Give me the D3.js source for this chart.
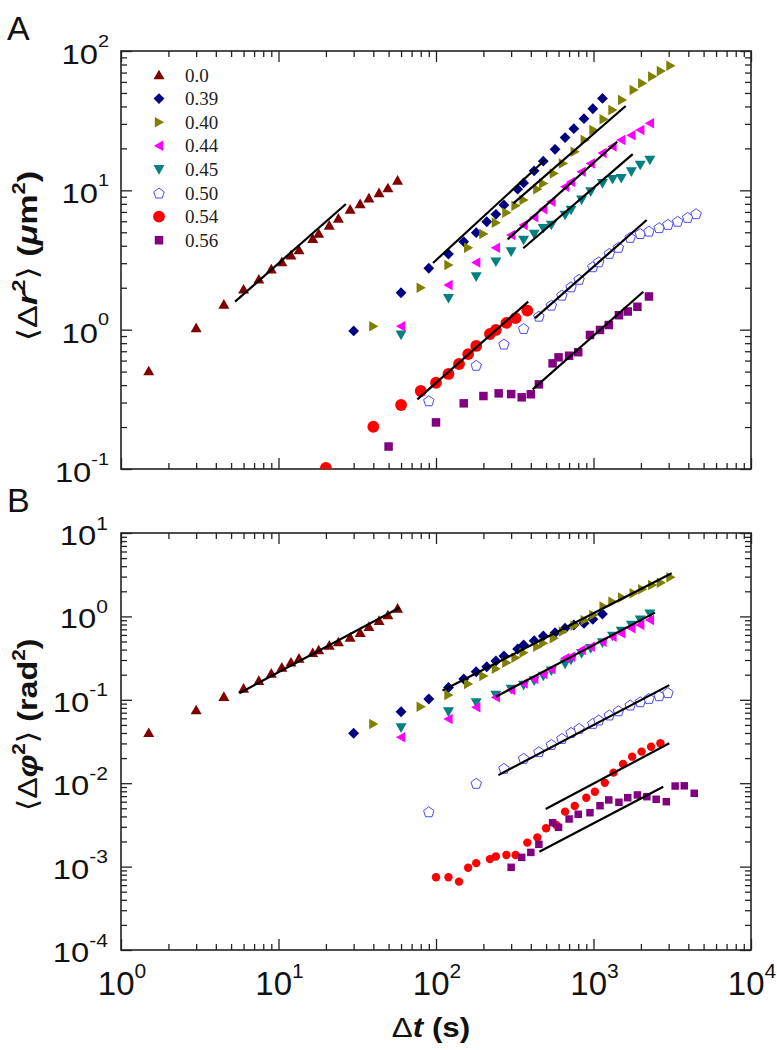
<!DOCTYPE html>
<html><head><meta charset="utf-8">
<script src="https://cdn.jsdelivr.net/npm/d3@7"></script>
<style>body{margin:0;background:#fff} svg{display:block}</style>
</head><body>
<svg id="chart" width="777" height="1050"></svg>
<script>
// ---------------- DATA ----------------
const LABELS = ["0.0","0.39","0.40","0.44","0.45","0.50","0.54","0.56"];

// lag times (s)
const T_00  = [1.5,3,4.5,6,7.5,9,10.5,12,13.5,16.5,18,21,24,28.5,33,37.5,43.5,49.5,57];
const T_039 = [30,60,90,120,150,180,210,240,270,330,360,420,480,570,660,750,870,990,1140];
const T_040 = [40,80,120,160,200,240,280,320,360,440,480,560,640,760,880,1000,1160,1320,1520,1800,2040,2360,2680,3080];
const T_044 = [60,120,180,240,300,360,420,480,540,660,720,840,960,1140,1320,1500,1740,1980,2280];
const T_045 = [60,120,180,240,300,360,420,480,540,660,720,840,960,1140,1320,1500,1740,1980,2280];
const T_050A = [90,180,270,360,450,540,630,720,810,990,1080,1260,1440,1710,1980,2250,2610,2970,3420,3960,4480];
const T_050B = [90,180,270,360,450,540,630,720,810,990,1080,1260,1440,1710,1980,2250,2610,2970];
const T_054A = [20,40,60,80,100,120,140,160,180,220,240,280,320,380];
const T_054B = [100,120,140,160,180,220,240,280,320,380,440,500,580,660,760,900,1020,1180,1340,1540,1760,2020,2320,2660];
const T_056A = [50,100,150,200,250,300,350,400,450,550,600,700,800,950,1100,1250,1450,1650,1900,2250];
const T_056B = [300,350,400,450,550,600,700,800,950,1100,1250,1450,1650,1900,2180,2500,2900,3300,3770,4360];

// Panel A: <Δr²> (µm²)
const MSD_00  = [0.505,1.03,1.52,1.95,2.30,2.72,3.07,3.43,3.73,4.5,4.9,5.6,6.3,7.3,8.0,8.8,9.6,10.4,11.8];
const MSD_039 = [0.98,1.84,2.76,3.49,4.28,4.97,5.95,6.73,7.85,10.2,11.3,13.8,16.2,19.7,23.9,27.7,32.7,38.5,45.7];
const MSD_040 = [1.06,2.0,2.91,3.87,4.86,5.86,6.91,7.76,8.53,10.2,11.2,13.2,15.6,18.9,23.0,27.1,32.4,37.7,44.5,52.5,58.6,65.5,71.8,78.5];
const MSD_044 = [1.06,2.09,3.03,3.87,4.78,5.64,6.40,7.31,8.28,10.6,11.5,13.6,15.6,18.5,20.6,23.0,24.9,27.1,30.3];
const MSD_045 = [0.916,1.68,2.40,3.07,3.63,4.40,4.86,5.34,5.64,6.65,7.22,8.53,9.78,11.2,12.0,12.2,13.6,15.2,16.5];
const MSD_050 = [0.309,0.555,0.789,1.02,1.25,1.50,1.77,2.03,2.30,2.83,3.07,3.53,3.90,4.6,4.9,5.1,5.4,5.7,6.0,6.4,6.8];
const MSD_054 = [0.102,0.201,0.288,0.363,0.416,0.481,0.567,0.668,0.764,0.931,0.995,1.12,1.21,1.37];
const MSD_056 = [0.145,0.216,0.296,0.334,0.349,0.345,0.327,0.344,0.405,0.573,0.633,0.650,0.689,0.916,0.995,1.08,1.27,1.35,1.46,1.73];

// Panel B: <Δφ²> (rad²)
const MSAD_00  = [0.0403,0.0755,0.109,0.137,0.170,0.207,0.245,0.282,0.314,0.367,0.396,0.450,0.493,0.561,0.638,0.753,0.889,1.04,1.25];
const MSAD_039 = [0.0397,0.072,0.102,0.140,0.178,0.217,0.249,0.292,0.335,0.406,0.454,0.512,0.582,0.638,0.72,0.789,0.826,0.922,1.07];
const MSAD_040 = [0.0513,0.0826,0.114,0.155,0.193,0.236,0.279,0.320,0.367,0.434,0.475,0.546,0.66,0.78,0.90,1.04,1.31,1.50,1.68,1.89,2.11,2.38,2.54,2.94];
const MSAD_044 = [0.0355,0.0589,0.0813,0.107,0.131,0.157,0.178,0.204,0.232,0.314,0.329,0.396,0.434,0.498,0.571,0.627,0.72,0.789,0.906];
const MSAD_045 = [0.0463,0.072,0.0923,0.114,0.134,0.150,0.170,0.193,0.223,0.269,0.30,0.361,0.414,0.484,0.582,0.668,0.789,0.906,1.07];
const MSAD_050 = [0.00455,0.00998,0.0151,0.0199,0.0239,0.0292,0.0345,0.0407,0.0455,0.0522,0.0573,0.0658,0.074,0.0867,0.0949,0.104,0.112,0.122];
const MSAD_054 = [0.000744,0.000744,0.00066,0.00097,0.0011,0.00123,0.00132,0.00138,0.00138,0.00194,0.00224,0.00288,0.00316,0.00456,0.00533,0.0067,0.0079,0.0101,0.0134,0.017,0.0208,0.0239,0.0274,0.0301];
const MSAD_056 = [0.00098,0.00129,0.00148,0.00185,0.00336,0.00296,0.00372,0.00424,0.00443,0.00537,0.0063,0.0059,0.0067,0.00723,0.00689,0.00641,0.006,0.00925,0.0093,0.00757];

// fit-line end points [t1, v1, t2, v2]
const FIT_A = [[5.3,1.59,26.8,7.98],[95.7,3.01,497,16.7],[310,8.07,1601,40.3],[285,4.45,1416,22.3],
               [358,3.84,1774,18.2],[425,1.21,2177,6.12],[76.1,0.316,385,1.59],[411,0.373,2070,1.87]];
const FIT_B = [[5.64,0.120,59,1.28],[110,0.129,3137,3.29],[240,0.109,2455,1.11],
               [249,0.0125,3030,0.150],[497,0.00491,3030,0.0301],[453,0.00151,2773,0.00908]];

const X_TICKS = [1,10,100,1000,10000];
const YA_TICKS = [0.1,1,10,100];
const YB_TICKS = [1e-4,1e-3,1e-2,1e-1,1,10];

// ---------------- STYLE ----------------
const COLORS = ["#800000","#000080","#808000","#ff00ff","#008080","#4a4aff","#ff0000","#800080"];
const SHAPES = ["triUp","diamond","triRight","triLeft","triDown","pentagon","circle","square"];
const SIZES_A = [11,10.8,10.5,10.5,11,11,11.8,8.5];
const SIZES_B = [11,11,10.5,10.5,11,11,8.4,7.5];
const DRAW_ORDER = [0,1,2,4,3,5,6,7];

const seriesA = [[T_00,MSD_00],[T_039,MSD_039],[T_040,MSD_040],[T_044,MSD_044],[T_045,MSD_045],[T_050A,MSD_050],[T_054A,MSD_054],[T_056A,MSD_056]];
const seriesB = [[T_00,MSAD_00],[T_039,MSAD_039],[T_040,MSAD_040],[T_044,MSAD_044],[T_045,MSAD_045],[T_050B,MSAD_050],[T_054B,MSAD_054],[T_056B,MSAD_056]];

function markerPath(shape, s) {
  const h = s * 0.88, w = s;
  switch (shape) {
    case "triUp":    return `M0,${-h*0.55}L${w/2},${h*0.45}L${-w/2},${h*0.45}Z`;
    case "triDown":  return `M0,${h*0.55}L${w/2},${-h*0.45}L${-w/2},${-h*0.45}Z`;
    case "triRight": return `M${h*0.55},0L${-h*0.45},${-w/2}L${-h*0.45},${w/2}Z`;
    case "triLeft":  return `M${-h*0.55},0L${h*0.45},${-w/2}L${h*0.45},${w/2}Z`;
    case "diamond":  { const d = s/2; return `M0,${-d}L${d},0L0,${d}L${-d},0Z`; }
    case "square":   { const a = s/2; return `M${-a},${-a}H${a}V${a}H${-a}Z`; }
    case "circle":   { const r = s/2; return `M${r},0A${r},${r} 0 1,1 ${-r},0A${r},${r} 0 1,1 ${r},0Z`; }
    case "pentagon": { const R = s/2; const pts = d3.range(5).map(i => { const a = (-90 + 72*i) * Math.PI/180; return [R*Math.cos(a), R*Math.sin(a) + R*0.1]; });
                       return "M" + pts.map(p => p[0].toFixed(2)+","+p[1].toFixed(2)).join("L") + "Z"; }
  }
}
function styleMarker(sel, i) {
  if (SHAPES[i] === "pentagon") sel.attr("fill", "#fff").attr("stroke", COLORS[i]).attr("stroke-width", 1);
  else sel.attr("fill", COLORS[i]).attr("stroke", "none");
}

const svg = d3.select("#chart");
svg.append("rect").attr("width", 777).attr("height", 1050).attr("fill", "#fff");

const TICKFONT = "'Liberation Sans', Arial, Helvetica, sans-serif";
const x = d3.scaleLog().domain([1, 1e4]).range([121, 751]);
const yA = d3.scaleLog().domain([0.1, 100]).range([469, 51]);
const yB = d3.scaleLog().domain([1e-4, 10]).range([950, 533]);

function frame(g, xs, ys, id) {
  const [x0, x1] = xs.range(), [y1, y0] = ys.range();
  const isMajor = v => Math.abs(Math.log10(v) - Math.round(Math.log10(v))) < 1e-9;
  const xMin = xs.ticks().filter(v => !isMajor(v)), yMin = ys.ticks().filter(v => !isMajor(v));
  const xMaj = xs.ticks().filter(isMajor), yMaj = ys.ticks().filter(isMajor);
  const add = (axis, tx, ty) => {
    const a = g.append("g").attr("transform", `translate(${tx},${ty})`).call(axis);
    a.select(".domain").remove();
    a.selectAll("line").attr("stroke", "#222").attr("stroke-width", 1.3);
    a.selectAll("text").remove();
    return a;
  };
  add(d3.axisBottom(xs).tickValues(xMaj).tickSize(-11), 0, y1);
  add(d3.axisBottom(xs).tickValues(xMin).tickSize(-6), 0, y1);
  add(d3.axisTop(xs).tickValues(xMaj).tickSize(-11), 0, y0);
  add(d3.axisTop(xs).tickValues(xMin).tickSize(-6), 0, y0);
  add(d3.axisLeft(ys).tickValues(yMaj).tickSize(-11), x0, 0);
  add(d3.axisLeft(ys).tickValues(yMin).tickSize(-6), x0, 0);
  add(d3.axisRight(ys).tickValues(yMaj).tickSize(-11), x1, 0);
  add(d3.axisRight(ys).tickValues(yMin).tickSize(-6), x1, 0);
  g.append("rect").attr("x", x0).attr("y", y0).attr("width", x1 - x0).attr("height", y1 - y0)
    .attr("fill", "none").attr("stroke", "#222").attr("stroke-width", 1.6);
  svg.append("clipPath").attr("id", id).append("rect").attr("x", x0).attr("y", y0).attr("width", x1 - x0).attr("height", y1 - y0);
}

function yLabels(g, ys, ticks, rightX, base, mainSize, supSize, supShift) {
  ticks.forEach(v => {
    const e = Math.round(Math.log10(v));
    const t = g.append("text").attr("font-family", TICKFONT).attr("fill", "#111")
      .attr("text-anchor", "end")
      .attr("transform", `translate(${rightX},${ys(v) + base}) scale(1.17,1)`);
    t.append("tspan").attr("font-size", mainSize).text("10");
    t.append("tspan").attr("font-size", supSize).attr("dy", -supShift).text(e);
  });
}

function plotPanel(g, ys, series, sizes, fits, clipId) {
  const pg = g.append("g").attr("clip-path", `url(#${clipId})`);
  DRAW_ORDER.forEach(i => {
    const [ts, vs] = series[i];
    const data = ts.map((t, k) => [t, vs[k]]);
    pg.append("g").selectAll("path").data(data).join("path")
      .attr("d", markerPath(SHAPES[i], sizes[i]))
      .attr("transform", d => `translate(${x(d[0])},${ys(d[1])})`)
      .call(styleMarker, i);
  });
  pg.append("g").selectAll("line").data(fits).join("line")
    .attr("x1", d => x(d[0])).attr("y1", d => ys(d[1]))
    .attr("x2", d => x(d[2])).attr("y2", d => ys(d[3]))
    .attr("stroke", "#000").attr("stroke-width", 2.2);
}

// ---- Panel A ----
const gA = svg.append("g");
frame(gA, x, yA, "clipA");
plotPanel(gA, yA, seriesA, SIZES_A, FIT_A, "clipA");
yLabels(gA, yA, YA_TICKS, 109, 13, 28, 17, 17.5);

// legend
const leg = gA.append("g");
LABELS.forEach((lab, i) => {
  const yy = 75 + 23.6 * i;
  leg.append("path").attr("d", markerPath(SHAPES[i], SIZES_A[i]))
    .attr("transform", `translate(159,${yy})`).call(styleMarker, i);
  leg.append("text").attr("x", 185).attr("y", yy + 6.5)
    .attr("font-family", "'Liberation Serif', 'Times New Roman', serif").attr("font-size", 19)
    .attr("fill", "#222").text(lab);
});

// ---- Panel B ----
const gB = svg.append("g");
frame(gB, x, yB, "clipB");
plotPanel(gB, yB, seriesB, SIZES_B, FIT_B, "clipB");
yLabels(gB, yB, YB_TICKS, 108, 12, 28, 18, 15.5);

// x tick labels (panel B)
X_TICKS.forEach(v => {
  const e = Math.round(Math.log10(v));
  const t = gB.append("text").attr("font-family", TICKFONT).attr("fill", "#111")
    .attr("text-anchor", "middle").attr("x", x(v) + 1).attr("y", 995);
  t.append("tspan").attr("font-size", 33).text("10");
  t.append("tspan").attr("font-size", 21).attr("dy", -16.7).text(e);
});

// ---- titles ----
function rich(t, parts) {
  parts.forEach(p => {
    const s = t.append("tspan").text(p.t);
    if (p.b) s.attr("font-weight", "bold");
    if (p.i) s.attr("font-style", "italic");
    if (p.fs) s.attr("font-size", p.fs);
    if (p.dy) s.attr("dy", p.dy);
  });
}
const TITLEFONT = "'Liberation Sans', Arial, 'DejaVu Sans', sans-serif";
const tA = svg.append("text").attr("font-family", TITLEFONT).attr("font-size", 28).attr("fill", "#111")
  .attr("text-anchor", "middle").attr("transform", "translate(37,256) rotate(-90) scale(1.22,1)");
rich(tA, [{t:"⟨Δ"},{t:"r",b:1,i:1},{t:"2",b:1,fs:18,dy:-12},{t:"⟩",dy:12},{t:" (",b:1},{t:"μ",b:1,i:1},{t:"m",b:1},{t:"2",b:1,fs:18,dy:-12},{t:")",b:1,dy:12}]);

const tB = svg.append("text").attr("font-family", TITLEFONT).attr("font-size", 28).attr("fill", "#111")
  .attr("text-anchor", "middle").attr("transform", "translate(37,725) rotate(-90) scale(1.15,1)");
rich(tB, [{t:"⟨Δ"},{t:"φ",b:1,i:1},{t:"2",b:1,fs:18,dy:-12},{t:"⟩",dy:12},{t:" (",b:1},{t:"rad",b:1},{t:"2",b:1,fs:18,dy:-12},{t:")",b:1,dy:12}]);

const tX = svg.append("text").attr("font-family", TITLEFONT).attr("font-size", 28).attr("fill", "#111")
  .attr("text-anchor", "middle").attr("transform", "translate(431,1037) scale(1.12,1)");
rich(tX, [{t:"Δ"},{t:"t",b:1,i:1},{t:" (s)",b:1}]);

svg.append("text").attr("x", 7).attr("y", 40).attr("font-family", TICKFONT).attr("font-size", 34).attr("fill", "#111").text("A");
svg.append("text").attr("x", 7).attr("y", 512).attr("font-family", TICKFONT).attr("font-size", 34).attr("fill", "#111").text("B");
</script>
</body></html>
